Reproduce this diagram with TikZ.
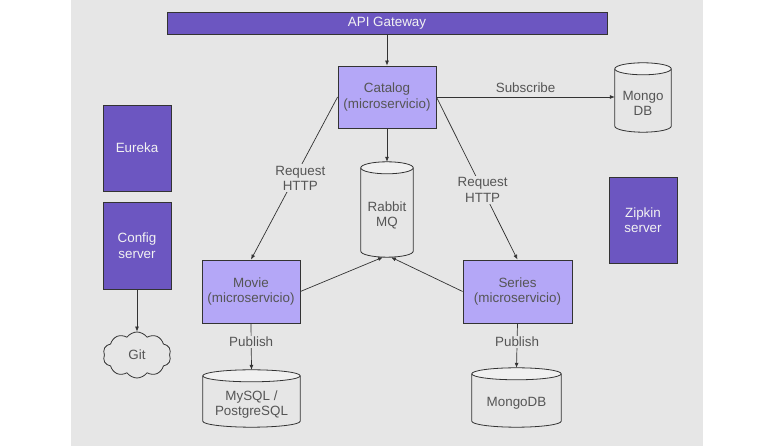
\documentclass[tikz,border=0pt]{standalone}
\usepackage{fontspec}
\setmainfont{Liberation Sans}
\usetikzlibrary{arrows.meta,shapes.symbols,calc}

\definecolor{bggrey}{HTML}{E6E6E6}
\definecolor{capgrey}{HTML}{F0F0F0}
\definecolor{linegrey}{HTML}{333333}
\definecolor{textgrey}{HTML}{555555}
\definecolor{darkpurple}{HTML}{6C56C1}
\definecolor{lightpurple}{HTML}{B4A7F7}
\definecolor{boxwhite}{HTML}{F2F2F2}

% cylinder drawn round the body node of a store
\newcommand{\dbcyl}[1]{%
  \draw[dbline] let \p1=(#1.north west), \p2=(#1.south east), \n1={(\x2-\x1)/2} in
    (\x1,\y1+6pt) -- (\x1,\y2+6pt) arc[start angle=180, end angle=360, x radius=\n1, y radius=6pt] -- (\x2,\y1+6pt);
  \draw[dbline, fill=capgrey] let \p1=(#1.north west), \p2=(#1.south east), \n1={(\x2-\x1)/2} in
    (\x1+\n1,\y1+6pt) ellipse[x radius=\n1, y radius=6pt];
}

\begin{document}
\begin{tikzpicture}[x=1pt, y=1pt, font=\fontsize{13.4}{15.5}\selectfont,
    darkbox/.style={draw=linegrey, fill=darkpurple, text=boxwhite, line width=0.8pt, align=center, inner sep=2pt},
    lightbox/.style={draw=linegrey, fill=lightpurple, text=textgrey, line width=0.8pt, align=center, inner sep=2pt},
    store/.style={text=textgrey, align=center, inner sep=0pt},
    dbline/.style={draw=linegrey, line width=0.8pt},
    arr/.style={-{Latex[length=5pt,width=4pt]}, draw=linegrey, line width=0.7pt},
    lbl/.style={fill=bggrey, text=textgrey, align=center, inner sep=1.5pt}]

\useasboundingbox (0,0) rectangle (784,446);
\fill[bggrey] (71,0) rectangle (703,446);

% boxes
\node[darkbox, minimum width=440, minimum height=22] (gateway) at (387,423) {API Gateway};
\node[lightbox, minimum width=98, minimum height=62] (catalog) at (387,349) {Catalog\\(microservicio)};
\node[darkbox, minimum width=68, minimum height=86] (eureka) at (137,298) {Eureka};
\node[darkbox, minimum width=68, minimum height=87] (config) at (137,200.5) {Config\\server};
\node[darkbox, minimum width=68, minimum height=86] (zipkin) at (643,226) {Zipkin\\server};
\node[lightbox, minimum width=98, minimum height=63] (movie) at (251,154.5) {Movie\\(microservicio)};
\node[lightbox, minimum width=109, minimum height=63] (series) at (517.5,154.5) {Series\\(microservicio)};

\node[cloud, cloud puffs=10, cloud puff arc=110, aspect=1.5, draw=linegrey, line width=0.8pt,
      text=textgrey, minimum width=68, minimum height=46, inner sep=0pt] (git) at (137,91) {Git};

% stores
\node[store, minimum width=56, minimum height=57] (mongo) at (643,342.5) {Mongo\\DB};
\node[store, minimum width=52, minimum height=83] (rabbit) at (387,230.5) {Rabbit\\MQ};
\node[store, minimum width=97, minimum height=45] (mysql) at (251.5,41.5) {MySQL /\\PostgreSQL};
\node[store, minimum width=89, minimum height=47] (mongodb) at (516.5,42.5) {MongoDB};
\dbcyl{mongo}
\dbcyl{rabbit}
\dbcyl{mysql}
\dbcyl{mongodb}

% connectors
\draw[arr] (gateway.south) -- (catalog.north);
\draw[arr] (catalog.south) -- ([yshift=12pt]rabbit.north);
\draw[arr] (catalog.east) -- node[above, text=textgrey, yshift=1pt] {Subscribe} (catalog.east -| mongo.west);
\draw[arr] (catalog.west) -- node[lbl, pos=0.5, xshift=6pt] {Request\\HTTP} (movie.north);
\draw[arr] (catalog.east) -- node[lbl, pos=0.57] {Request\\HTTP} (series.north);
\draw[arr] (movie.east) -- ([xshift=-4pt]rabbit.south);
\draw[arr] (series.west) -- ([xshift=4pt]rabbit.south);
\draw[arr] (config.south) -- (git.north);
\draw[arr] (movie.south) -- node[lbl, pos=0.4] {Publish} ([yshift=12pt]mysql.north);
\draw[arr] (series.south) -- node[lbl, pos=0.42] {Publish} ([yshift=12pt]mongodb.north);

\end{tikzpicture}
\end{document}
